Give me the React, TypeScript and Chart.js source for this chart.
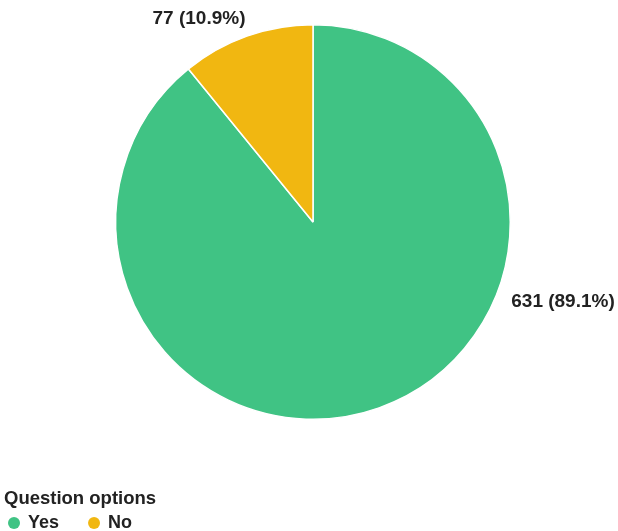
import React, { useEffect, useRef } from "react";
import { Chart, registerables } from "chart.js";

Chart.register(...registerables);

const categories = ["Yes", "No"];
const values = [631, 77];
const percentLabels = ["89.1%", "10.9%"];
const colors = ["#40C384", "#F1B711"];
const legendTitle = "Question options";

const FONT = "'Liberation Sans', Arial, sans-serif";

const labelPlugin = {
  id: "customLabels",
  afterDraw(chart: any) {
    const ctx = chart.ctx;
    const meta = chart.getDatasetMeta(0);
    const arc0 = meta.data[0];
    const cx = arc0.x;
    const cy = arc0.y;
    const r = arc0.outerRadius;
    ctx.save();
    ctx.fillStyle = "#222";
    ctx.font = `bold 19px ${FONT}`;
    ctx.textBaseline = "middle";
    // Yes label (right side)
    ctx.textAlign = "left";
    ctx.fillText(`${values[0]} (${percentLabels[0]})`, cx + r + 1, cy + 80);
    // No label (top)
    ctx.textAlign = "center";
    ctx.fillText(`${values[1]} (${percentLabels[1]})`, cx - 114, cy - r - 6);

    // Legend
    ctx.textAlign = "left";
    ctx.font = `bold 18.5px ${FONT}`;
    ctx.fillText(legendTitle, 4, 499);
    ctx.font = `bold 18px ${FONT}`;
    let x = 8;
    const y = 523;
    categories.forEach((c, i) => {
      ctx.beginPath();
      ctx.fillStyle = colors[i];
      ctx.arc(x + 6, y, 6, 0, Math.PI * 2);
      ctx.fill();
      ctx.fillStyle = "#222";
      ctx.fillText(c, x + 20, y);
      x += 20 + ctx.measureText(c).width + 29;
    });
    ctx.restore();
  },
};

export default function App() {
  const ref = useRef<HTMLCanvasElement>(null);
  useEffect(() => {
    if (!ref.current) return;
    const chart = new Chart(ref.current, {
      type: "pie",
      data: {
        labels: categories,
        datasets: [
          {
            data: values,
            backgroundColor: colors,
            borderColor: "#ffffff",
            borderWidth: 1.5,
          },
        ],
      },
      options: {
        responsive: false,
        animation: false,
        layout: { padding: { left: 115, right: 107, top: 24, bottom: 111 } },
        plugins: { legend: { display: false }, tooltip: { enabled: false } },
      },
      plugins: [labelPlugin],
    });
    return () => chart.destroy();
  }, []);
  return (
    <div style={{ position: "fixed", left: 0, top: 0, width: 618, height: 531, background: "#fff" }}>
      <canvas ref={ref} width={618} height={531} />
    </div>
  );
}
